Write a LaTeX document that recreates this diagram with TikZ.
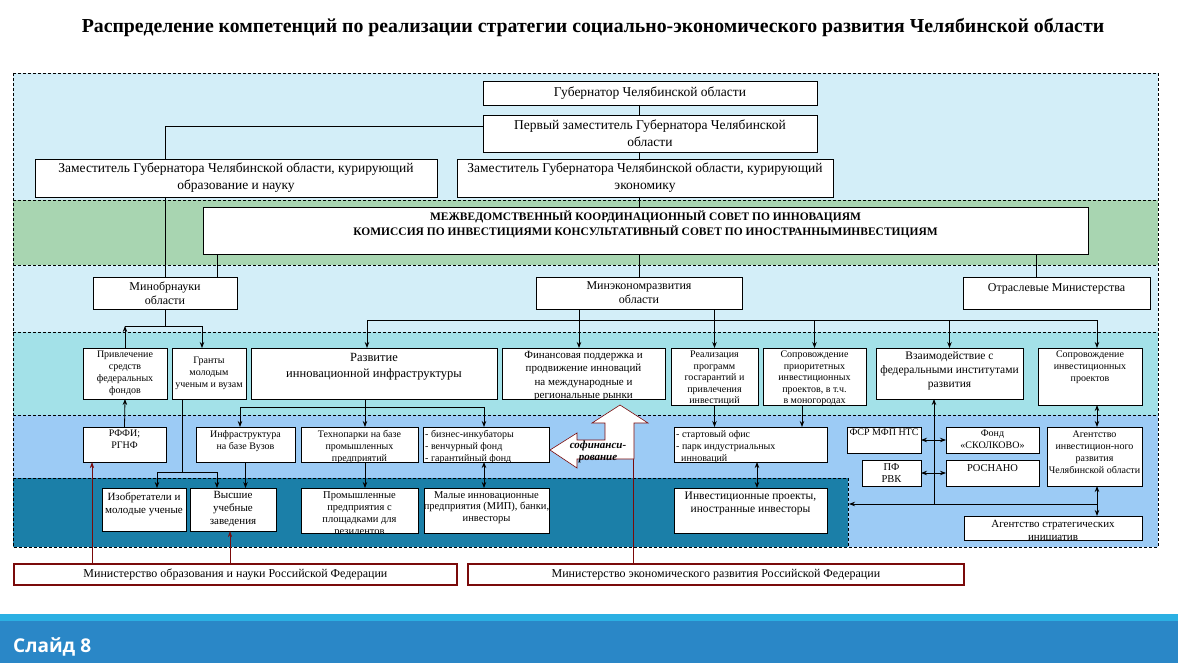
\documentclass[tikz,border=0pt]{standalone}
\usepackage{fontspec}
\setmainfont{Liberation Serif}
\newfontfamily\slidefont{Open Sans}
\usetikzlibrary{arrows.meta}

\definecolor{bandsky}{HTML}{D3EEF8}
\definecolor{bandgreen}{HTML}{A8D5B1}
\definecolor{bandaqua}{HTML}{A3E1E8}
\definecolor{bandblue}{HTML}{9CCBF5}
\definecolor{banddeep}{HTML}{1B7FA8}
\definecolor{darkred}{HTML}{7A0A0A}
\definecolor{barlight}{HTML}{2BB0E3}
\definecolor{bardark}{HTML}{2A87C7}

\tikzset{
  box/.style={draw, fill=white, line width=0.8pt, anchor=north west, inner sep=0pt, outer sep=0pt},
  boxtext/.style={align=center, inner sep=1pt, font=\fontsize{10}{12}\selectfont},
  toptext/.style={at={([yshift=-#1]\curbox.north)}, anchor=north},
  toptext/.default=2pt,
  lefttext/.style={at={([xshift=1pt,yshift=-2pt]\curbox.north west)}, anchor=north west, align=left},
  bigfont/.style={font=\fontsize{13.5}{17}\selectfont},
  midfont/.style={font=\fontsize{12}{14}\selectfont},
  bandline/.style={dash pattern=on 3pt off 2pt, line width=0.7pt},
  ln/.style={line width=0.8pt},
  arr/.style={-{Stealth[length=6pt,width=4.5pt]}, line width=0.8pt},
  rarr/.style={{Stealth[length=6pt,width=4.5pt]}-, line width=0.8pt},
  darr/.style={{Stealth[length=6pt,width=4.5pt]}-{Stealth[length=6pt,width=4.5pt]}, line width=0.8pt},
  redarr/.style={-{Stealth[length=6pt,width=4pt]}, draw=darkred, line width=0.6pt},
  redline/.style={draw=darkred, line width=0.6pt},
  rfbox/.style={draw=darkred, line width=1.8pt, fill=white, anchor=north west, inner sep=0pt,
    font=\fontsize{12}{14}\selectfont},
  cofin/.style={draw=darkred, fill=white, line width=0.6pt},
}

% box: [text options]{name}{x1}{y1}{x2}{y2}{text}
\newcommand{\bx}[7][]{%
  \def\curbox{#2}%
  \node[box, minimum width={(#5-#3)*1pt}, minimum height={(#6-#4)*1pt}] (#2) at (#3,#4) {};
  \begin{scope}
    \clip (#2.north west) rectangle (#2.south east);
    \node[boxtext, at={(#2.center)}, #1] (#2t) {#7};
  \end{scope}
}

\begin{document}
\begin{tikzpicture}[x=1pt, y=-1pt]
\useasboundingbox (0,0) rectangle (1178,663);
\fill[white] (0,0) rectangle (1178,663);

% title
\node[font=\bfseries\fontsize{19.8}{23}\selectfont] (title) at (593,28)
  {Распределение компетенций по реализации стратегии социально-экономического развития Челябинской области};

% bands
\fill[bandsky] (13,73) rectangle (1158,200);
\fill[bandgreen] (13,200) rectangle (1158,265);
\fill[bandsky] (13,265) rectangle (1158,332);
\fill[bandaqua] (13,332) rectangle (1158,415);
\fill[bandblue] (13,415) rectangle (1158,547);
\fill[banddeep] (13,478) rectangle (848,547);
\draw[bandline] (13,73) rectangle (1158,547);
\foreach \y in {200,265,332,415}
  \draw[bandline] (13,\y) -- (1158,\y);
\draw[bandline] (13,478) -- (848,478) -- (848,547);

% governor level
\bx[bigfont]{gub}{483}{81}{817}{105}{Губернатор Челябинской области}
\bx[bigfont]{perv}{483}{115}{817}{152}{Первый заместитель Губернатора Челябинской\\области}
\bx[bigfont]{zamobr}{35}{159}{437}{197}{Заместитель Губернатора Челябинской области, курирующий\\образование и науку}
\bx[bigfont]{zamek}{457}{159}{833}{197}{Заместитель Губернатора Челябинской области, курирующий\\экономику}

% councils
\bx[toptext=3pt, font=\fontsize{11.5}{15}\selectfont\bfseries]{mezh}{203}{207}{1088}{254}{МЕЖВЕДОМСТВЕННЫЙ  КООРДИНАЦИОННЫЙ СОВЕТ ПО ИННОВАЦИЯМ\\КОМИССИЯ ПО ИНВЕСТИЦИЯМИ КОНСУЛЬТАТИВНЫЙ СОВЕТ ПО ИНОСТРАННЫМИНВЕСТИЦИЯМ}

% ministries
\bx[midfont]{minobr}{93}{277}{237}{309}{Минобрнауки\\области}
\bx[midfont]{minek}{536}{277}{742}{309}{Минэкономразвития\\области}
\bx[midfont, toptext=5pt]{otr}{963}{277}{1150}{309}{Отраслевые  Министерства}

% directions
\bx{privl}{83}{348}{167}{399}{Привлечение\\средств\\федеральных\\фондов}
\bx{granty}{172}{348}{246}{399}{Гранты\\молодым\\ученым и вузам}
\bx[toptext=4pt, font=\fontsize{12.5}{16}\selectfont]{razv}{251}{348}{497}{399}{Развитие\\инновационной  инфраструктуры}
\bx[toptext, font=\fontsize{11}{13.5}\selectfont]{fin}{502}{348}{665}{399}{Финансовая поддержка и\\продвижение инноваций\\на международные и\\региональные рынки}
\bx[toptext, font=\fontsize{10}{11.5}\selectfont]{real}{671}{348}{758}{405}{Реализация\\программ\\госгарантий и\\привлечения\\инвестиций}
\bx[toptext, font=\fontsize{10}{11.5}\selectfont]{sopp}{763}{348}{866}{405}{Сопровождение\\приоритетных\\инвестиционных\\проектов, в т.ч.\\в моногородах}
\bx[toptext, font=\fontsize{11.5}{14}\selectfont]{vzai}{876}{348}{1023}{399}{Взаимодействие с\\федеральными институтами\\развития}
\bx[toptext]{sopi}{1038}{348}{1142}{405}{Сопровождение\\инвестиционных\\проектов}

% instruments
\bx[toptext]{rffi}{83}{427}{166}{462}{РФФИ;\\РГНФ}
\bx[toptext]{infra}{196}{427}{295}{462}{Инфраструктура\\на базе Вузов}
\bx[toptext]{techno}{301}{427}{418}{462}{Технопарки на базе\\промышленных\\предприятий}
\bx[lefttext]{biz}{423}{427}{549}{462}{- бизнес-инкубаторы\\- венчурный фонд\\- гарантийный  фонд}
\bx[lefttext]{start}{674}{427}{827}{462}{- стартовый офис\\- парк индустриальных\\\ \ инноваций}
\bx[toptext=1pt]{fsr}{847}{427}{921}{453}{ФСР МФП НТС}
\bx[toptext]{fond}{946}{427}{1039}{453}{Фонд\\«СКОЛКОВО»}
\bx[font=\fontsize{10.5}{12.5}\selectfont]{pf}{862}{460}{921}{486}{ПФ\\РВК}
\bx[toptext=3pt, font=\fontsize{10.5}{12.5}\selectfont]{rosnano}{946}{460}{1039}{486}{РОСНАНО}
\bx[toptext=3pt]{agi}{1047}{427}{1142}{486}{Агентство\\инвестицион-ного\\развития\\Челябинской области}

% participants
\bx[toptext=3pt, font=\fontsize{11}{13}\selectfont]{izob}{102}{488}{186}{531}{Изобретатели и\\молодые ученые}
\bx[toptext=2pt, font=\fontsize{11}{13}\selectfont]{vyssh}{190}{488}{276}{531}{Высшие\\учебные\\заведения}
\bx[toptext=2pt, font=\fontsize{10.5}{12}\selectfont]{prom}{301}{488}{418}{533}{Промышленные\\предприятия с\\площадками для\\резидентов}
\bx[toptext=2pt, font=\fontsize{10.5}{11.5}\selectfont]{malye}{424}{488}{549}{533}{Малые инновационные\\предприятия (МИП), банки,\\инвесторы}
\bx[toptext=3pt, font=\fontsize{11.5}{13}\selectfont]{invp}{674}{488}{827}{533}{Инвестиционные проекты,\\иностранные инвесторы}
\bx[toptext=3pt, font=\fontsize{11}{13}\selectfont]{asi}{964}{516}{1142}{540}{Агентство стратегических\\инициатив}

% federal ministries
\node[rfbox, minimum width=443pt, minimum height=21pt] (minobrrf) at (13,563)
  {Министерство  образования  и науки  Российской  Федерации};
\node[rfbox, minimum width=496pt, minimum height=21pt] (minekrf) at (467,563)
  {Министерство  экономического  развития  Российской  Федерации};

% connector points
\coordinate (axis) at (639,0);
\coordinate (lx) at (165,0);
\coordinate (mx) at (217,0);
\coordinate (ox) at (1036,0);
\coordinate (mb) at (165,326);
\coordinate (gx) at (202,0);
\coordinate (bus) at (0,320);
\coordinate (rz) at (367,0);
\coordinate (fx) at (579,0);
\coordinate (gb) at (182,472);
\coordinate (i1) at (157,0);
\coordinate (i2) at (217,0);
\coordinate (rb) at (365,407);
\coordinate (r1) at (240,0);
\coordinate (r3) at (484,0);
\coordinate (s2) at (802,0);
\coordinate (s3) at (757,0);
\coordinate (sx) at (1097,0);
\coordinate (vx) at (934,504);
\coordinate (dk) at (849,504);
\coordinate (m1) at (92,0);
\coordinate (m2) at (230,0);
\coordinate (cf) at (633,459);

% top chain
\draw[ln] (gub.south -| axis) -- (perv.north -| axis);
\draw[ln] (perv.south -| axis) -- (zamek.north -| axis);
\draw[ln] (zamek.south -| axis) -- (mezh.north -| axis);
\draw[ln] (mezh.south -| axis) -- (minek.north -| axis);
\draw[ln] ([yshift=7pt]perv.west) -| (zamobr.north -| lx);
\draw[ln] (zamobr.south -| lx) -- (minobr.north -| lx);
\draw[ln] (mezh.south -| mx) -- (minobr.north -| mx);
\draw[ln] (mezh.south -| ox) -- (otr.north -| ox);

% Minobrnauki branch
\draw[ln] (minobr.south -| lx) -- (mb);
\draw[ln] (privl.north |- mb) -- (mb);
\draw[arr] (privl.north) -- (privl.north |- mb);
\draw[arr] (mb) -| (granty.north -| gx);
\draw[arr] (rffi.north) -- (privl.south);
\draw[ln] (granty.south -| gb) -- (gb);
\draw[arr] (gb) -| (izob.north -| i1);
\draw[arr] (gb) -| (vyssh.north -| i2);

% Minekonomrazvitiya branch
\draw[ln] (bus -| rz) -- (bus -| sx);
\draw[arr] (bus -| rz) -- (razv.north -| rz);
\draw[arr] (minek.south -| fx) -- (fin.north -| fx);
\draw[arr] (minek.south -| real.north) -- (real.north);
\foreach \n in {sopp, vzai}
  \draw[arr] (bus -| \n.north) -- (\n.north);
\draw[arr] (bus -| sx) -- (sopi.north -| sx);

% infrastructure
\draw[ln] (razv.south -| rb) -- (rb);
\draw[arr] (rb) -| (infra.north -| r1);
\draw[arr] (rb) -- (techno.north -| rb);
\draw[arr] (rb) -| (biz.north -| r3);
\draw[arr] (infra.south) -- (vyssh.north -| infra.south);
\draw[arr] (techno.south -| rb) -- (prom.north -| rb);
\draw[darr] (biz.south -| r3) -- (malye.north -| r3);

% investment side
\draw[arr] (real.south) -- (start.north -| real.south);
\draw[arr] (sopp.south -| s2) -- (start.north -| s2);
\draw[darr] (start.south -| s3) -- (invp.north -| s3);
\draw[rarr] (vzai.south -| vx) -- (vx);
\draw[darr] (fsr.east) -- (fond.west);
\draw[darr] (pf.east) -- (rosnano.west);
\draw[darr] (sopi.south -| sx) -- (agi.north -| sx);
\draw[darr] (agi.south -| sx) -- (asi.north -| sx);
\draw[arr] (vx -| sx) -- (dk);

% federal links
\draw[redarr] (minobrrf.north -| m1) -- (rffi.south -| m1);
\draw[redarr] (minobrrf.north -| m2) -- (vyssh.south -| m2);
\draw[redline] (minekrf.north -| cf) -- (cf);

% co-financing arrow
\draw[cofin] (620,405) -- (648,423) -- (634,423) -- (634,459) -- (577,459) -- (577,468)
  -- (550,450) -- (577,433) -- (577,440) -- (605,440) -- (605,423) -- (592,423) -- cycle;
\node[font=\fontsize{11}{12}\selectfont\bfseries\itshape, align=center, inner sep=0pt] (cofint) at (598,452)
  {софинанси-\\рование};

% slide bar
\fill[barlight] (0,614) rectangle (1178,621);
\fill[bardark] (0,621) rectangle (1178,663);
\node[font=\slidefont\bfseries\fontsize{19}{22}\selectfont, text=white, anchor=west, inner sep=0pt] (slide) at (13,647) {Слайд 8};
\end{tikzpicture}
\end{document}
